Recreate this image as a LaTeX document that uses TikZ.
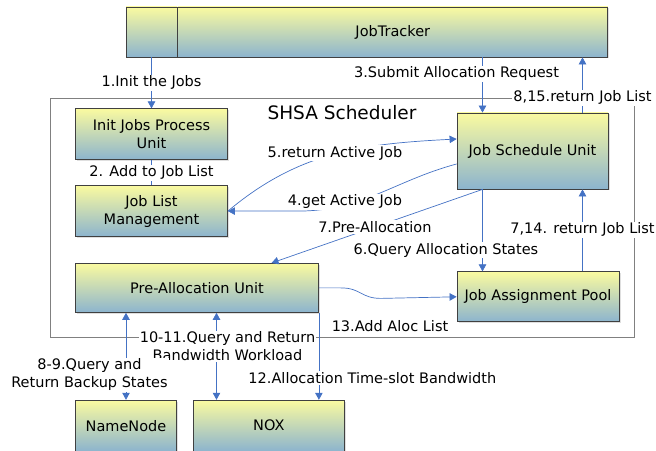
\documentclass[tikz,border=0pt]{standalone}
\usepackage{fontspec}
\setmainfont{DejaVu Sans}
\usepackage{xcolor}
\usetikzlibrary{positioning}
\usetikzlibrary{arrows.meta}
\usetikzlibrary{shadows}

\definecolor{unitTop}{RGB}{250,250,160}
\definecolor{unitBottom}{RGB}{140,180,206}
\definecolor{unitLine}{RGB}{64,64,64}
\definecolor{flowBlue}{RGB}{68,114,196}
\definecolor{frameGray}{RGB}{128,128,128}

\begin{document}
\begin{tikzpicture}[
    font=\fontsize{14.5}{18}\selectfont,
    unit/.style={draw=unitLine, line width=0.8pt, top color=unitTop, bottom color=unitBottom,
        align=center, inner sep=0pt,
        drop shadow={shadow xshift=1.5pt, shadow yshift=-1.5pt, fill=black!25}},
    flow/.style={draw=flowBlue, line width=0.7pt},
    arr/.style={flow, -{Triangle[length=7pt, width=7.5pt]}},
    rarr/.style={flow, {Triangle[length=7pt, width=7.5pt]}-},
    both/.style={flow, {Triangle[length=7pt, width=7.5pt]}-{Triangle[length=7pt, width=7.5pt]}},
    lbl/.style={fill=white, inner sep=1pt, align=center, text=black}
]
    \useasboundingbox (0,0) rectangle (656pt,450pt);

    % SHSA Scheduler frame
    \draw[frameGray, line width=0.8pt] (50pt,113pt) rectangle (634pt,352pt);
    \node (SHSA) at (342pt,337pt) {\fontsize{18.5}{22}\selectfont SHSA Scheduler};

    % JobTracker
    \node[unit, minimum width=51pt, minimum height=50pt] (JTL) at (151.5pt,418pt) {};
    \node[unit, right=0pt of JTL, minimum width=430pt, minimum height=50pt] (JT) {JobTracker};

    % Left column
    \node[unit, below=51pt of JTL, minimum width=152pt, minimum height=51pt] (IJP) {Init Jobs Process\\Unit};
    \node[unit, below=25pt of IJP, minimum width=152pt, minimum height=51pt] (JLM) {Job List\\Management};
    \node[unit, below=26pt of JLM.south west, anchor=north west, minimum width=243pt, minimum height=49pt] (PAU) {Pre-Allocation Unit};

    % NameNode and NOX
    \node[unit, below=87pt of PAU.south west, anchor=north west, minimum width=101pt, minimum height=51pt] (NN) {NameNode};
    \node[unit, right=16pt of NN, minimum width=151pt, minimum height=51pt] (NOX) {NOX};

    % Right column
    \node[unit, minimum width=151pt, minimum height=76pt] (JSU) at (532.5pt,299pt) {Job Schedule Unit};
    \node[unit, below=82pt of JSU.south west, anchor=north west, minimum width=162pt, minimum height=50pt] (JAP) {Job Assignment Pool};

    \coordinate (req) at ([xshift=-50pt]JSU.north);
    \coordinate (ret) at ([xshift=50pt]JSU.north);
    \coordinate (qry) at ([xshift=-50pt]JSU.south);
    \coordinate (back) at ([xshift=50pt]JSU.south);
    \coordinate (pre) at ([xshift=74.5pt]PAU.north);
    \coordinate (bw) at ([xshift=19.5pt]PAU.south);

    % Flows
    \draw[arr] (JTL.south) -- node[lbl] {1.Init the Jobs} (IJP.north);
    \draw[flow] (IJP.south) -- node[lbl] {2. Add to Job List} (JLM.north);
    \draw[arr] (req |- JT.south) -- node[lbl, pos=0.3, xshift=-26pt] {3.Submit Allocation Request} (req);
    \draw[arr] (ret) -- node[lbl, pos=0.27] {8,15.return Job List} (ret |- JT.south);
    \draw[rarr] (JLM.east) -- ++(70pt,0) to[out=0, in=195] ([yshift=-13pt]JSU.west);
    \draw[arr] (JLM.east) to[out=40, in=183] ([yshift=12pt]JSU.west);
    \node[lbl] (RAJ) at (335pt,297pt) {5.return Active Job};
    \node[lbl] (GAJ) at (345pt,248pt) {4.get Active Job};
    \draw[arr] (qry) -- node[lbl, pos=0.51] {7.Pre-Allocation} (pre);
    \draw[arr] (qry) -- node[lbl, pos=0.74, xshift=-36.5pt] {6.Query Allocation States} (qry |- JAP.north);
    \draw[arr] (back |- JAP.north) -- node[lbl, pos=0.51] {7,14. return Job List} (back);
    \draw[arr] (PAU.east) -- ++(22pt,0) .. controls +(20pt,0) and +(-20pt,0) .. ++(40pt,-10.5pt) -- (JAP.west);
    \draw[arr] (PAU.south east) -- node[lbl, pos=0.75, xshift=53.5pt] {12.Allocation Time-slot Bandwidth} (PAU.south east |- NOX.north);
    \draw[both] (bw) -- node[lbl, pos=0.385, xshift=11pt] {10-11.Query and Return\\Bandwidth Workload} (bw |- NOX.north);
    \draw[both] (NN.north |- PAU.south) -- node[lbl, pos=0.71, xshift=-36.5pt] {8-9.Query and\\Return Backup States} (NN.north);
    \node[lbl] (AAL) at (390pt,124pt) {13.Add Aloc List};
\end{tikzpicture}
\end{document}
